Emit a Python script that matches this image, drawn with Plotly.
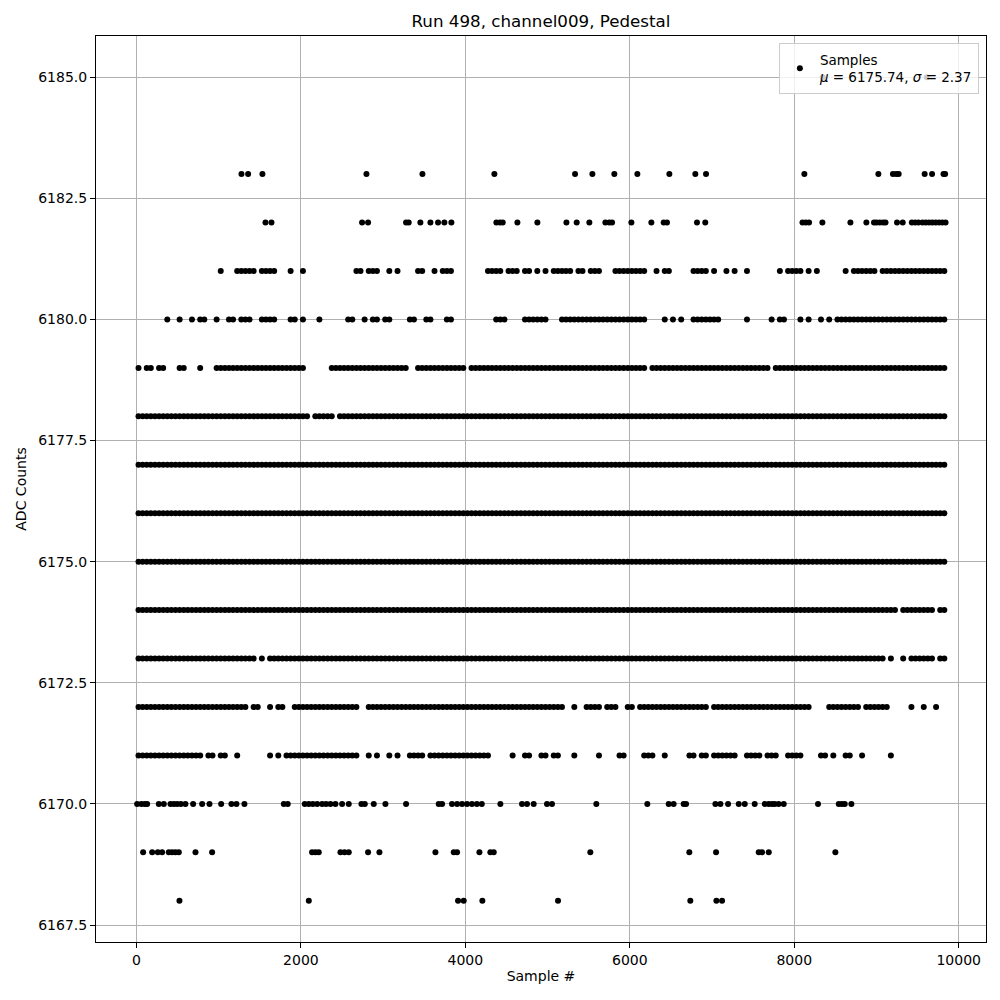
import plotly.graph_objects as go

# ---- Data ----
# Dense ADC levels: occupancy per 50-sample bin (1 = samples present in that bin),
# written in groups of 10 bins (500 samples) for readability.
BIN_WIDTH = 50

row_6181 = ("0000000000 0000000000 1000111110 1111000100 1000000000 0001101110 0101000011 "
            "0010111000 0000011110 1110110101 0111110110 1110001111 1111001011 0000011110 "
            "1001010010 0000001011 1101010000 0010111111 0111111111 1111111")
row_6180 = ("0000000100 1001011001 0011011100 1111000110 1000100000 0110010110 1100001100 "
            "1100011000 0000000111 0000111111 0001111111 1111111111 1111000010 1010011111 "
            "1100000010 0000101100 0101001010 1111111111 1111111111 1111111")
row_6179 = ("1011011000 1100010001 1111111111 1111111111 1000000111 1111111111 1111110011 "
            "1111111111 0111111111 1111111111 1111111111 1111111111 1111011111 1111111111 "
            "1111111111 1111011111 1111111111 1111111111 1111111111 1111111")
row_6178 = ("1111111111 1111111111 1111111111 1111111111 1101111101 1111111111 1111111111 "
            "1111111111 1111111111 1111111111 1111111111 1111111111 1111111111 1111111111 "
            "1111111111 1111111111 1111111111 1111111111 1111111111 1111111")
row_6177 = ("1111111111 1111111111 1111111111 1111111111 1111111111 1111111111 1111111111 "
            "1111111111 1111111111 1111111111 1111111111 1111111111 1111111111 1111111111 "
            "1111111111 1111111111 1111111111 1111111111 1111111111 1111111")
row_6176 = ("1111111111 1111111111 1111111111 1111111111 1111111111 1111111111 1111111111 "
            "1111111111 1111111111 1111111111 1111111111 1111111111 1111111111 1111111111 "
            "1111111111 1111111111 1111111111 1111111111 1111111111 1111111")
row_6175 = ("1111111111 1111111111 1111111111 1111111111 1111111111 1111111111 1111111111 "
            "1111111111 1111111111 1111111111 1111111111 1111111111 1111111111 1111111111 "
            "1111111111 1111111111 1111111111 1111111111 1111111111 1111111")
row_6174 = ("1111111111 1111111111 1111111111 1111111111 1111111111 1111111111 1111111111 "
            "1111111111 1111111111 1111111111 1111111111 1111111111 1111111111 1111111111 "
            "1111111111 1111111111 1111111111 1111111111 1111101111 1111011")
row_6173 = ("1111111111 1111111111 1111111110 1011111111 1111111111 1111111111 1111111111 "
            "1111111111 1111111111 1111111111 1111111111 1111111111 1111111111 1111111111 "
            "1111111111 1111111111 1111111111 1111111111 1101001011 1111011")
row_6172 = ("1111111111 1111111111 1111111011 0010110011 1111111111 1111001111 1111111111 "
            "1111111111 1111111111 1111111111 1111001001 1110111001 1011111111 1111111110 "
            "1111111111 1111111111 1111000011 1111110111 1110000010 0100100")
row_6171 = ("1111111111 1111110110 1100100000 0010101111 1111111111 1111001010 0101001111 "
            "0111111111 1111110000 0100110011 0110001000 0010000110 0001110010 0000110110 "
            "1111110011 1101110011 1100001101 0011001000 0001000000 0000000")

dense_levels = [6181, 6180, 6179, 6178, 6177, 6176, 6175, 6174, 6173, 6172, 6171]
dense_masks = [row_6181, row_6180, row_6179, row_6178, row_6177, row_6176,
               row_6175, row_6174, row_6173, row_6172, row_6171]

# Sparse ADC levels: sample numbers of individual points
samples_6185 = [8347, 9611]
samples_6183 = [1277, 1358, 1532, 2797, 3478, 4353, 5334, 5545, 5812, 6092, 6481, 6797,
                6927, 8123, 9023, 9200, 9240, 9270, 9586, 9676, 9815, 9835]
samples_6182 = [1569, 1642, 2744, 2817, 3279, 3311, 3453, 3575, 3668, 3745, 3830, 4377,
                4420, 4454, 4633, 4876, 5229, 5354, 5508, 5703, 5750, 5784, 6019, 6262,
                6412, 6452, 6817, 6918, 8100, 8140, 8180, 8342, 8683, 8877, 8970, 9000,
                9040, 9080, 9110, 9250, 9319, 9430, 9470, 9510, 9560, 9600, 9640, 9680,
                9720, 9760, 9800, 9840]
samples_6170 = [8, 60, 100, 130, 272, 333, 414, 455, 495, 540, 596, 689, 799, 888, 1030,
                1155, 1216, 1313, 1792, 1840, 2047, 2096, 2145, 2198, 2258, 2306, 2359,
                2420, 2501, 2582, 2736, 2777, 2886, 3028, 3279, 3676, 3717, 3838, 3900,
                3960, 4020, 4080, 4140, 4200, 4426, 4689, 4750, 4831, 4993, 5054, 5593,
                6213, 6473, 6533, 6655, 6684, 7041, 7102, 7195, 7325, 7398, 7519, 7641,
                7690, 7730, 7762, 7810, 7872, 8289, 8541, 8580, 8614, 8695]
samples_6169 = [81, 191, 260, 312, 393, 433, 474, 515, 718, 920, 2136, 2177, 2217, 2481,
                2530, 2582, 2817, 2955, 3636, 3859, 3899, 4171, 4304, 4345, 5520, 6724,
                7049, 7568, 7608, 7690, 8500]
samples_6168 = [523, 2096, 3911, 3980, 4207, 5127, 6736, 7053, 7122]

sparse_levels = [6185, 6183, 6182, 6170, 6169, 6168]
sparse_samples = [samples_6185, samples_6183, samples_6182, samples_6170, samples_6169, samples_6168]

mean_value = 6175.74
sigma_value = 2.37

title_text = "Run 498, channel009, Pedestal"
x_tick_values = [0, 2000, 4000, 6000, 8000, 10000]
y_tick_values = [6167.5, 6170.0, 6172.5, 6175.0, 6177.5, 6180.0, 6182.5, 6185.0]

# ---- Build the point list ----
xs, ys = [], []
for level, mask in zip(dense_levels, dense_masks):
    for i, c in enumerate(mask.replace(" ", "")):
        if c == "1":
            xs.append(i * BIN_WIDTH + BIN_WIDTH / 2)
            ys.append(level)
for level, samp in zip(sparse_levels, sparse_samples):
    for s in samp:
        xs.append(s)
        ys.append(level)

order = sorted(range(len(xs)), key=lambda k: xs[k])
xs = [xs[k] for k in order]
ys = [ys[k] for k in order]

FONT = "DejaVu Sans"

fig = go.Figure()
fig.add_trace(go.Scatter(
    x=xs, y=ys, mode="markers",
    marker=dict(color="black", size=6, line=dict(width=0)),
    name=f"Samples<br><i>μ</i> = {mean_value:.2f}, <i>σ</i> = {sigma_value:.2f}",
    showlegend=True,
))

axis_common = dict(
    showgrid=True, gridcolor="#b0b0b0", gridwidth=1,
    zeroline=False, showline=True, mirror=True, linecolor="black", linewidth=1,
    ticks="outside", ticklen=5, tickwidth=1, tickcolor="black",
    tickfont=dict(family=FONT, size=14, color="black"),
)

fig.update_layout(
    width=1000, height=1000,
    margin=dict(l=86, r=22, t=28, b=66),
    paper_bgcolor="white", plot_bgcolor="white",
    font=dict(family=FONT, size=14, color="black"),
    title=dict(text=title_text, x=0.5, xref="paper", xanchor="center", y=0.987, yanchor="middle",
               yref="container", font=dict(family=FONT, size=16.7, color="black")),
    xaxis=dict(range=[-492, 10332], tickvals=x_tick_values,
               ticktext=[str(v) for v in x_tick_values],
               title=dict(text="Sample #", standoff=4, font=dict(family=FONT, size=14)),
               **axis_common),
    yaxis=dict(range=[6167.15, 6185.85], tickvals=y_tick_values,
               ticktext=[f"{v:.1f}" for v in y_tick_values],
               title=dict(text="ADC Counts", standoff=8, font=dict(family=FONT, size=14)),
               **axis_common),
    legend=dict(x=0.992, y=0.992, xanchor="right", yanchor="top",
                bgcolor="rgba(255,255,255,0.8)", bordercolor="#cccccc", borderwidth=1,
                tracegroupgap=0,
                font=dict(family=FONT, size=13.5, color="black")),
)

fig.write_html("out.html")
